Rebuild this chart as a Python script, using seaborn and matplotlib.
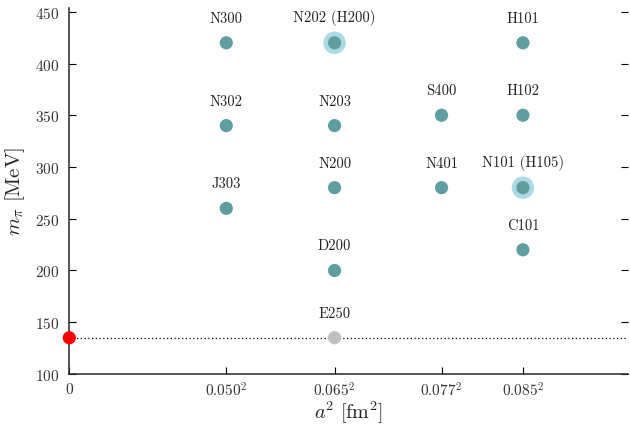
import matplotlib
matplotlib.use("Agg")
import matplotlib.pyplot as plt
import numpy as np
import pandas as pd
import seaborn as sns

# lattice spacings (fm) and ensembles
spacings = [0.050, 0.065, 0.077, 0.085]
ensembles = ["N300", "N302", "J303",
             "N202 (H200)", "N203", "N200", "D200",
             "S400", "N401",
             "H101", "H102", "N101 (H105)", "C101"]
ens_a = [0.050, 0.050, 0.050,
         0.065, 0.065, 0.065, 0.065,
         0.077, 0.077,
         0.085, 0.085, 0.085, 0.085]
ens_mpi = [420, 340, 260,
           420, 340, 280, 200,
           350, 280,
           420, 350, 280, 220]
halo = ["N202 (H200)", "N101 (H105)"]
future_name = "E250"
future_a = 0.065
future_mpi = 135
phys_mpi = 135

sns.set_style("ticks")
plt.rcParams["font.family"] = "serif"
plt.rcParams["font.serif"] = ["cmr10", "DejaVu Serif"]
plt.rcParams["mathtext.fontset"] = "cm"
plt.rcParams["axes.formatter.use_mathtext"] = True

df = pd.DataFrame({"name": ensembles,
                   "a2": np.array(ens_a) ** 2,
                   "mpi": ens_mpi})
df_halo = df[df["name"].isin(halo)]

fig, ax = plt.subplots(figsize=(6.3, 4.31), dpi=100)

ax.axhline(phys_mpi, color="black", ls=(0, (1, 2)), lw=0.9, zorder=1)

sns.scatterplot(data=df_halo, x="a2", y="mpi", s=260, color="#add8e6",
                edgecolor="none", ax=ax, zorder=2)
sns.scatterplot(data=df, x="a2", y="mpi", s=90, color="cadetblue",
                edgecolor="none", ax=ax, zorder=3)
sns.scatterplot(x=[future_a ** 2], y=[future_mpi], s=90, color="silver",
                edgecolor="none", ax=ax, zorder=3)
sns.scatterplot(x=[0], y=[phys_mpi], s=90, color="red",
                edgecolor="none", ax=ax, zorder=4, clip_on=False)

for _, r in df.iterrows():
    ax.annotate(r["name"], (r["a2"], r["mpi"]), xytext=(0, 13),
                textcoords="offset points", ha="center", va="bottom",
                fontsize=10.5, color="#222222")
ax.annotate(future_name, (future_a ** 2, future_mpi), xytext=(0, 13),
            textcoords="offset points", ha="center", va="bottom",
            fontsize=10.5, color="#222222")

ax.set_xlim(0, 0.0089)
ax.set_ylim(100, 454)
ax.set_xticks([0] + [s ** 2 for s in spacings])
ax.set_xticklabels(["$0$"] + [r"$%.3f^2$" % s for s in spacings])
ax.set_yticks(range(100, 451, 50))
ax.set_yticklabels([f"${v}$" for v in range(100, 451, 50)])
ax.tick_params(axis="both", direction="in", length=5, width=0.8,
               labelsize=11, colors="black", labelcolor="#333333")
ax.tick_params(axis="y", right=True, pad=7)
ax.tick_params(axis="x", pad=5)
ax.set_xlabel(r"$a^2\ [\mathrm{fm}^2]$", fontsize=14.5, labelpad=0)
ax.set_ylabel(r"$m_\pi\ [\mathrm{MeV}]$", fontsize=15, labelpad=6)

for side in ["top", "right"]:
    ax.spines[side].set_visible(False)
ax.spines["left"].set_linewidth(1.1)
ax.spines["bottom"].set_linewidth(1.1)

fig.subplots_adjust(left=0.11, right=0.997, bottom=0.13, top=0.98)
fig.savefig("out.png", dpi=100)
